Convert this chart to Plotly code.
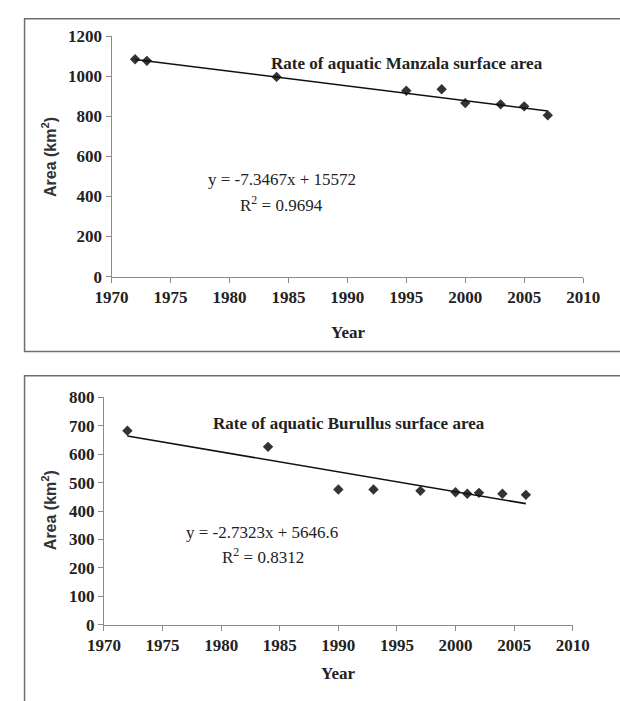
import plotly.graph_objects as go

W, H = 620, 701

# ---- data ----
manzala_years = [1972, 1973, 1984, 1995, 1998, 2000, 2003, 2005, 2007]
manzala_area = [1085, 1077, 997, 928, 935, 866, 860, 850, 805]
manzala_trend_years = [1972, 2007]
manzala_trend_area = [1084, 827]

burullus_years = [1972, 1984, 1990, 1993, 1997, 2000, 2001, 2002, 2004, 2006]
burullus_area = [683, 626, 476, 476, 471, 466, 461, 464, 461, 457]
burullus_trend_years = [1972, 2006]
burullus_trend_area = [664, 426]

x_ticks = [1970, 1975, 1980, 1985, 1990, 1995, 2000, 2005, 2010]
manzala_y_ticks = [0, 200, 400, 600, 800, 1000, 1200]
burullus_y_ticks = [0, 100, 200, 300, 400, 500, 600, 700, 800]

manzala_title = "Rate of aquatic Manzala surface area"
manzala_eq = "y = -7.3467x + 15572"
manzala_r2 = "R<sup>2</sup> = 0.9694"
burullus_title = "Rate of aquatic Burullus surface area"
burullus_eq = "y = -2.7323x + 5646.6"
burullus_r2 = "R<sup>2</sup> = 0.8312"


def px(x):
    return x / W


def py(y):
    return 1 - y / H


SERIF = "Liberation Serif, Times New Roman, serif"
SANS = "Liberation Sans, Arial, sans-serif"
MARK = "#333333"
AXC = "#8a8a8a"

fig = go.Figure()

fig.add_trace(go.Scatter(x=manzala_years, y=manzala_area, mode="markers",
                         marker=dict(symbol="diamond", size=8, color=MARK),
                         xaxis="x", yaxis="y", showlegend=False))
fig.add_trace(go.Scatter(x=manzala_trend_years, y=manzala_trend_area, mode="lines",
                         line=dict(color="#111111", width=1.6),
                         xaxis="x", yaxis="y", showlegend=False))
fig.add_trace(go.Scatter(x=burullus_years, y=burullus_area, mode="markers",
                         marker=dict(symbol="diamond", size=8, color=MARK),
                         xaxis="x2", yaxis="y2", showlegend=False))
fig.add_trace(go.Scatter(x=burullus_trend_years, y=burullus_trend_area, mode="lines",
                         line=dict(color="#111111", width=1.6),
                         xaxis="x2", yaxis="y2", showlegend=False))

tickfont = dict(family=SERIF, size=17, color="#222222", weight="bold")

common_x = dict(range=[1970, 2010], tickvals=x_ticks, showgrid=False, zeroline=False,
                showline=True, linecolor=AXC, linewidth=1, ticks="outside",
                ticklen=5, tickcolor=AXC, tickfont=tickfont)
common_y = dict(showgrid=False, zeroline=False, showline=True, linecolor=AXC,
                linewidth=1, ticks="outside", ticklen=5, tickcolor=AXC,
                tickfont=tickfont)

fig.update_layout(
    width=W, height=H,
    margin=dict(l=0, r=0, t=0, b=0),
    paper_bgcolor="white", plot_bgcolor="white",
    xaxis=dict(domain=[px(100), px(599)], anchor="y", **common_x),
    yaxis=dict(domain=[py(275), py(28)], anchor="x", range=[0, 1200],
               tickvals=manzala_y_ticks, **common_y),
    xaxis2=dict(domain=[px(92), px(588)], anchor="y2", **common_x),
    yaxis2=dict(domain=[py(632.7), py(399.3)], anchor="x2", range=[0, 800],
                tickvals=burullus_y_ticks, **common_y),
)

frame = dict(color="#6e6e6e", width=1.5)
fig.add_shape(type="rect", xref="paper", yref="paper",
              x0=px(8), x1=1.05, y0=py(352), y1=py(10), line=frame)
fig.add_shape(type="rect", xref="paper", yref="paper",
              x0=px(8), x1=1.05, y0=-0.05, y1=py(377), line=frame)


def ann(text, x, y, font, angle=0):
    fig.add_annotation(text=text, xref="paper", yref="paper", x=px(x), y=py(y),
                       xanchor="center", yanchor="middle", showarrow=False,
                       textangle=angle, font=font)


title_font = dict(family=SERIF, size=17, color="#222222", weight="bold")
eq_font = dict(family=SERIF, size=17, color="#222222")
year_font = dict(family=SERIF, size=17, color="#222222", weight="bold")
ytitle_font = dict(family=SANS, size=16, color="#333333", weight="bold")

ann(manzala_title, 413, 56, title_font)
ann(manzala_eq, 280, 175, eq_font)
ann(manzala_r2, 280, 200, eq_font)
ann("Year", 350, 332, year_font)
ann("Area (km<sup>2</sup>)", 34, 152, ytitle_font, -90)

ann(burullus_title, 351, 426, title_font)
ann(burullus_eq, 259, 538, eq_font)
ann(burullus_r2, 260, 562, eq_font)
ann("Year", 340, 683, year_font)
ann("Area (km<sup>2</sup>)", 34, 515, ytitle_font, -90)

fig.write_html("out.html", config={"displayModeBar": False},
               post_script="document.body.style.margin='0px';")
